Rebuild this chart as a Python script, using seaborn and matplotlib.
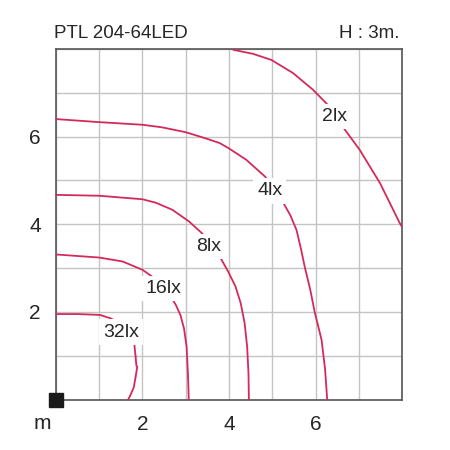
import matplotlib
matplotlib.use('Agg')
import matplotlib.pyplot as plt
import seaborn as sns

# isolux curves (metres)
x32 = [0, 0.5, 1.02, 1.27, 1.45, 1.60, 1.72, 1.81, 1.86, 1.88, 1.86, 1.80, 1.73, 1.67]
y32 = [1.95, 1.95, 1.93, 1.85, 1.75, 1.62, 1.47, 1.28, 1.05, 0.75, 0.48, 0.28, 0.12, 0]
x16 = [0, 1.0, 1.54, 2.0, 2.23, 2.45, 2.62, 2.77, 2.88, 2.96, 3.02, 3.05, 3.07]
y16 = [3.31, 3.24, 3.15, 2.96, 2.80, 2.60, 2.40, 2.16, 1.92, 1.62, 1.20, 0.60, 0]
x8 = [0, 1.0, 2.0, 2.31, 2.69, 3.08, 3.38, 3.60, 3.81, 3.98, 4.15, 4.27, 4.36, 4.42, 4.45, 4.46]
y8 = [4.67, 4.65, 4.57, 4.49, 4.33, 4.06, 3.79, 3.50, 3.22, 2.92, 2.58, 2.20, 1.75, 1.20, 0.60, 0]
x4 = [0, 1.0, 2.0, 2.46, 3.0, 3.46, 3.79, 4.0, 4.40, 4.83, 5.05, 5.25, 5.42, 5.56, 5.67, 5.75, 5.88, 5.98, 6.14, 6.22, 6.27]
y4 = [6.40, 6.33, 6.27, 6.21, 6.10, 5.96, 5.85, 5.73, 5.47, 5.09, 4.80, 4.50, 4.20, 3.87, 3.41, 3.03, 2.50, 2.00, 1.36, 0.70, 0]
x2 = [4.10, 4.55, 4.98, 5.48, 5.94, 6.25, 6.45, 6.64, 7.02, 7.49, 7.95, 8.0]
y2 = [7.98, 7.89, 7.75, 7.45, 7.07, 6.76, 6.48, 6.21, 5.70, 4.94, 4.02, 3.94]

levels = ['32lx', '16lx', '8lx', '4lx', '2lx']
curves = [(x32, y32), (x16, y16), (x8, y8), (x4, y4), (x2, y2)]
label_pos = [(1.50, 1.54), (2.48, 2.54), (3.52, 3.49), (4.94, 4.76), (6.44, 6.45)]

tick_vals = list(range(9))
tick_labels = ['', '', '2', '', '4', '', '6', '', '']

sns.set_style('white')
plt.rcParams['font.family'] = ['Liberation Sans', 'DejaVu Sans']

fig = plt.figure(figsize=(4.5, 4.5), dpi=100)
ax = fig.add_axes([0.1244, 0.1122, 0.769, 0.779])

line_color = '#d42a5b'
for (xs, ys), lab, (lx, ly) in zip(curves, levels, label_pos):
    sns.lineplot(x=xs, y=ys, sort=False, color=line_color, lw=1.3, ax=ax, zorder=3)
    ax.text(lx, ly, lab, fontsize=14, ha='center', va='center', zorder=4,
            bbox=dict(facecolor='white', edgecolor='none', pad=3))

ax.set_xlim(0, 8)
ax.set_ylim(0, 8)
ax.set_xticks(tick_vals)
ax.set_yticks(tick_vals)
ax.set_xticklabels(tick_labels, fontsize=15)
ax.set_yticklabels(tick_labels, fontsize=15)
ax.tick_params(axis='x', length=0, pad=11)
ax.tick_params(axis='y', length=0, pad=11)
ax.grid(True, color='#c4c4c4', lw=1.0)
ax.set_axisbelow(True)
for s in ax.spines.values():
    s.set_color('#555555')
    s.set_linewidth(1.2)

# light source marker at origin
ax.plot([0], [0], marker='s', ms=10, color='#1a1a1a', clip_on=False, zorder=5)

fig.text(0.12, 0.916, 'PTL 204-64LED', fontsize=13.5, ha='left', va='baseline')
fig.text(0.887, 0.916, 'H : 3m.', fontsize=13.5, ha='right', va='baseline')
fig.text(0.093, 0.058, 'm', fontsize=15, ha='center', va='center')

fig.savefig('out.png', dpi=100)
